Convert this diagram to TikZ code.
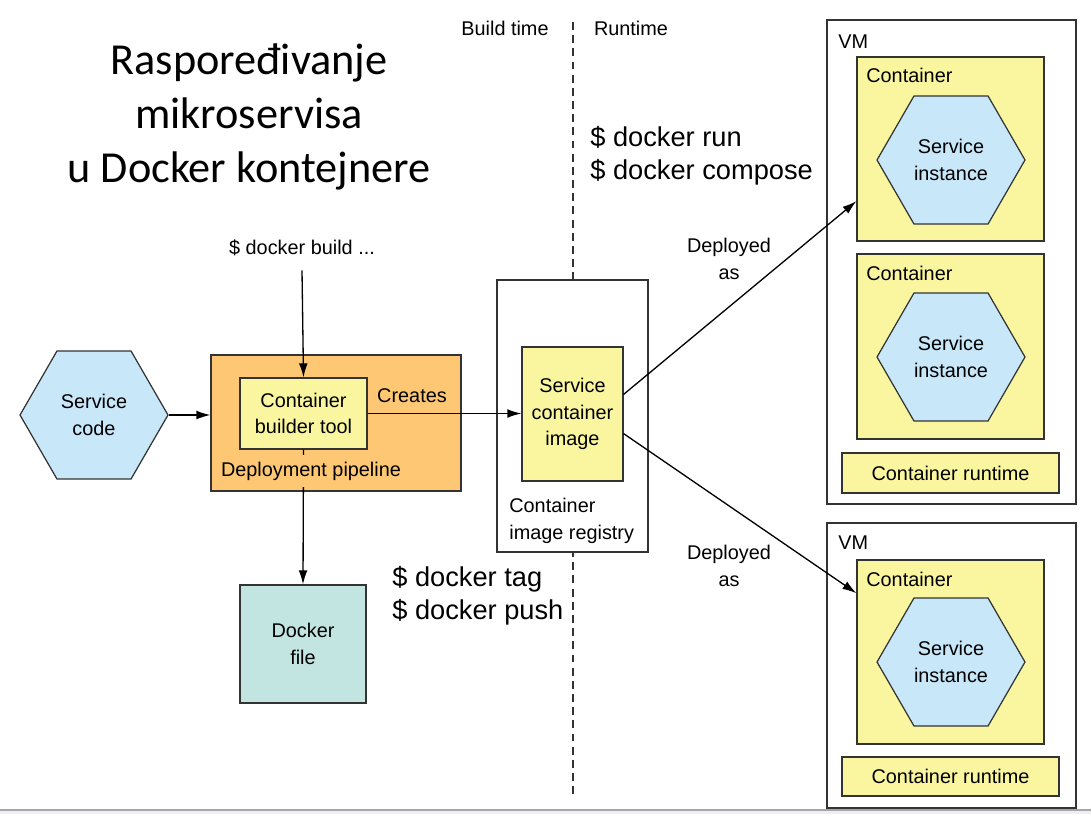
\documentclass[tikz,border=0pt]{standalone}
\usepackage{fontspec}
\setmainfont{Liberation Sans}
\newfontfamily\titlefont{Carlito}
\usepackage{tikz}
\usetikzlibrary{shapes.geometric,arrows.meta}
\definecolor{edge}{HTML}{333333}
\definecolor{hexblue}{HTML}{C8E8FA}
\definecolor{boxyellow}{HTML}{FAF6A0}
\definecolor{pipeorange}{HTML}{FDC773}
\definecolor{fileteal}{HTML}{C2E5E1}
\definecolor{band}{HTML}{EEEEF3}
\begin{document}
\begin{tikzpicture}[x=0.02cm, y=-0.02cm, every node/.style={inner sep=0pt, align=center, font=\fontsize{11.3}{15}\selectfont}, box/.style={draw=edge, line width=0.7pt}, hexa/.style={regular polygon, regular polygon sides=6, minimum size=2.96cm, draw=edge, line width=0.7pt, fill=hexblue}, big/.style={align=left, anchor=west, font=\fontsize{15.5}{18.7}\selectfont}, arr/.style={draw=black, line width=0.75pt, -{Latex[length=8pt,width=5pt]}}]
\useasboundingbox (0,0) rectangle (1091,814);
\fill[band] (0,810) rectangle (1091,814);
\draw[gray!70, line width=0.8pt] (0,810) -- (1091,810);
\node[font=\titlefont\fontsize{25.2}{30.8}\selectfont] (title) at (249,117) {Raspoređivanje\\mikroservisa\\u Docker kontejnere};
\node (bt) at (505,28) {Build time};
\node (rt) at (631,28) {Runtime};
\coordinate (top) at (573,22);
\coordinate (bot) at (573,798);
\draw[edge, line width=0.7pt, dash pattern=on 4.5pt off 3pt] (top) -- (bot);
\node[hexa] (code) at (94,415) {Service\\code};
\node[box, fill=pipeorange, minimum width=5cm, minimum height=2.72cm] (pipe) at (336,423) {};
\node[box, fill=boxyellow, minimum width=2.54cm, minimum height=1.42cm] (builder) at (303.5,413.5) {Container\\builder tool};
\node (creates) at (412,396) {Creates};
\node (build) at (302,248) {\$ docker build ...};
\node[box, fill=fileteal, minimum width=2.52cm, minimum height=2.36cm] (file) at (303,644) {Docker\\file};
\node[box, fill=white, minimum width=3.02cm, minimum height=5.44cm] (reg) at (572.5,416) {};
\node[box, fill=boxyellow, minimum width=2.02cm, minimum height=2.68cm] (image) at (572.5,414) {Service\\container\\image};
\node[align=left, anchor=west] (reglbl) at (509,521) {Container\\image registry};
\node[big] (run) at (590,156) {\$ docker run\\\$ docker compose};
\node[big] (push) at (392,596) {\$ docker tag\\\$ docker push};
\node (dep1) at (729,259) {Deployed\\as};
\node (dep2) at (729,566) {Deployed\\as};
%% first VM
\node[box, fill=white, minimum width=4.98cm, minimum height=9.68cm] (vm1) at (951.5,262) {};
\node[anchor=west] (vm1lbl) at (838,42) {VM};
\node[box, fill=boxyellow, minimum width=3.74cm, minimum height=3.68cm] (c1) at (950.5,149) {};
\node[anchor=west] (c1lbl) at (866,75) {Container};
\node[hexa] (h1) at (951,160) {Service\\instance};
\node[box, fill=boxyellow, minimum width=3.74cm, minimum height=3.7cm] (c2) at (950.5,346.5) {};
\node[anchor=west] (c2lbl) at (866,273) {Container};
\node[hexa] (h2) at (951,357) {Service\\instance};
\node[box, fill=boxyellow, minimum width=4.34cm, minimum height=0.8cm] (r1) at (950.5,473) {Container runtime};
%% second VM
\node[box, fill=white, minimum width=4.98cm, minimum height=5.7cm] (vm2) at (951.5,665.5) {};
\node[anchor=west] (vm2lbl) at (838,543) {VM};
\node[box, fill=boxyellow, minimum width=3.74cm, minimum height=3.68cm] (c3) at (950.5,652) {};
\node[anchor=west] (c3lbl) at (866,579) {Container};
\node[hexa] (h3) at (951,662) {Service\\instance};
\node[box, fill=boxyellow, minimum width=4.34cm, minimum height=0.78cm] (r2) at (950.5,776.5) {Container runtime};
\draw[arr] (code.east) -- (pipe.west |- code.east);
\draw[arr] (build.south) ++(0,14) -- (builder.north);
\draw[arr] (builder.east) -- (image.west |- builder.east);
\draw[arr] (builder.south) -- (file.north);
\node[fill=pipeorange, inner xsep=1pt, inner ysep=4pt] (pipelbl) at (311,471) {Deployment pipeline};
\draw[arr] (image.21) -- (c1.209);
\draw[arr] (image.-21) -- (c3.148);
\end{tikzpicture}
\end{document}
